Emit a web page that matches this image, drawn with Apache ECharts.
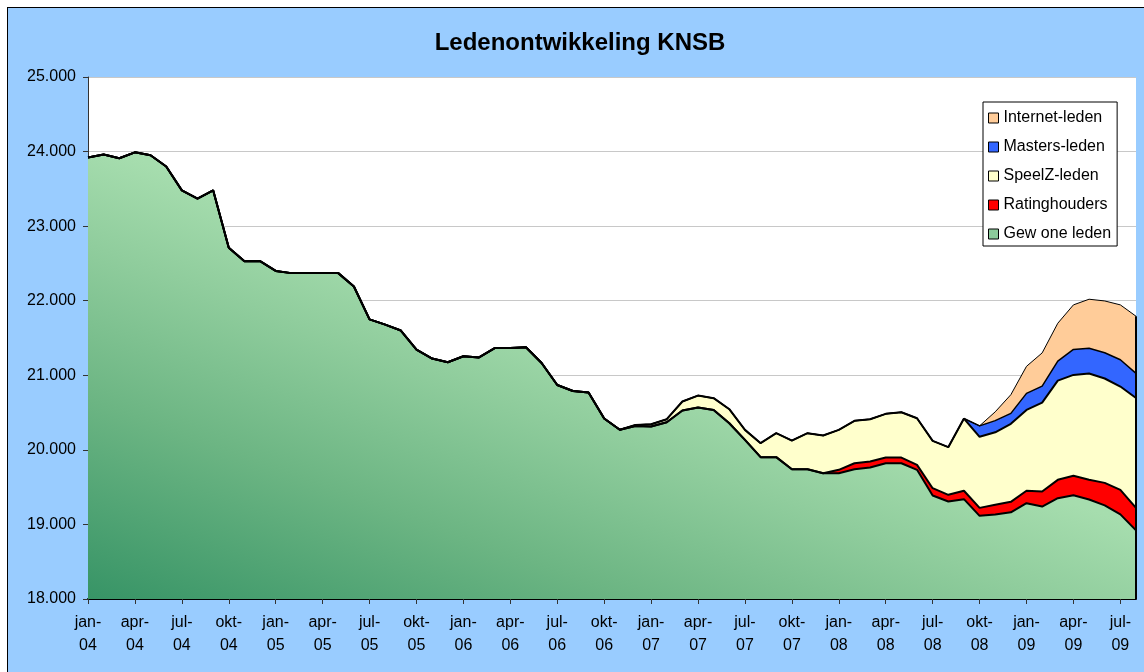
<!DOCTYPE html>
<html>
<head>
<meta charset="utf-8">
<script src="https://cdn.jsdelivr.net/npm/echarts@6/dist/echarts.min.js"></script>
<style>
  html, body { margin: 0; padding: 0; background: #ffffff; }
  #frame { position: absolute; left: 7px; top: 7px; width: 1160px; height: 690px; border: 1px solid #000; background: #99CCFF; }
  #chart { position: absolute; left: 0; top: 0; width: 1144px; height: 672px; }
</style>
</head>
<body>
<div id="frame"></div>
<div id="chart"></div>
<script>
const categories = [
  'jan-04','feb-04','mrt-04','apr-04','mei-04','jun-04','jul-04','aug-04','sep-04','okt-04','nov-04','dec-04',
  'jan-05','feb-05','mrt-05','apr-05','mei-05','jun-05','jul-05','aug-05','sep-05','okt-05','nov-05','dec-05',
  'jan-06','feb-06','mrt-06','apr-06','mei-06','jun-06','jul-06','aug-06','sep-06','okt-06','nov-06','dec-06',
  'jan-07','feb-07','mrt-07','apr-07','mei-07','jun-07','jul-07','aug-07','sep-07','okt-07','nov-07','dec-07',
  'jan-08','feb-08','mrt-08','apr-08','mei-08','jun-08','jul-08','aug-08','sep-08','okt-08','nov-08','dec-08',
  'jan-09','feb-09','mrt-09','apr-09','mei-09','jun-09','jul-09','aug-09'
];

const gewoneLeden = [
  23920,23960,23910,23990,23950,23800,23480,23370,23480,22710,22530,22530,
  22400,22370,22370,22370,22370,22190,21750,21680,21600,21345,21225,21175,
  21255,21240,21365,21365,21375,21165,20870,20790,20770,20420,20270,20320,
  20313,20371,20527,20567,20536,20357,20134,19902,19902,19741,19741,19687,
  19687,19741,19763,19821,19821,19732,19388,19308,19339,19115,19133,19162,
  19285,19240,19352,19392,19335,19256,19135,18920
];

const ratinghouders = [
  0,0,0,0,0,0,0,0,0,0,0,0,
  0,0,0,0,0,0,0,0,0,0,0,0,
  0,0,0,0,0,0,0,0,0,0,0,0,
  0,0,0,0,0,0,0,0,0,0,0,0,
  45,80,80,76,76,67,98,89,113,107,130,141,
  167,201,246,261,263,301,329,302
];

const speelZLeden = [
  0,0,0,0,0,0,0,0,0,0,0,0,
  0,0,0,0,0,0,0,0,0,0,0,0,
  0,0,0,0,0,0,0,0,0,0,0,15,
  31,40,121,161,157,188,134,188,322,384,483,506,
  536,568,568,586,608,625,635,639,968,953,972,1046,
  1084,1193,1331,1352,1426,1400,1385,1473
];

const mastersLeden = [
  0,0,0,0,0,0,0,0,0,0,0,0,
  0,0,0,0,0,0,0,0,0,0,0,0,
  0,0,0,0,0,0,0,0,0,0,0,0,
  0,0,0,0,0,0,0,0,0,0,0,0,
  0,0,0,0,0,0,0,0,0,147,157,140,
  221,221,261,342,338,345,359,330
];

const internetLeden = [
  0,0,0,0,0,0,0,0,0,0,0,0,
  0,0,0,0,0,0,0,0,0,0,0,0,
  0,0,0,0,0,0,0,0,0,0,0,0,
  0,0,0,0,0,0,0,0,0,0,0,0,
  0,0,0,0,0,0,0,0,0,0,118,251,
  363,445,508,597,658,695,736,767
];

const yTicks = { min: 18000, max: 25000, interval: 1000 };

const FONT = "'Liberation Sans', Arial, sans-serif";

function areaSeries(name, data, color, area, lw) {
  return {
    name: name,
    type: 'line',
    stack: 'total',
    data: data,
    symbol: 'none',
    showSymbol: false,
    lineStyle: { color: '#000', width: lw },
    itemStyle: { color: color, borderColor: '#000', borderWidth: 1 },
    areaStyle: { color: area, opacity: 1 },
    emphasis: { disabled: true }
  };
}

// diagonal fill of the base layer (style only)
const greenGradient = new echarts.graphic.LinearGradient(88, 599, 273, 95, [
  { offset: 0, color: '#379466' },
  { offset: 0.35, color: '#6cb583' },
  { offset: 0.62, color: '#90cd9d' },
  { offset: 0.8, color: '#a6ddae' },
  { offset: 1, color: '#a8dfb0' }
], true);

const lastIdx = categories.length - 1;
const lastTotal = gewoneLeden[lastIdx] + ratinghouders[lastIdx] + speelZLeden[lastIdx] +
                  mastersLeden[lastIdx] + internetLeden[lastIdx];

const series = [
  areaSeries('Gew one leden', gewoneLeden, '#8ccb9b', greenGradient, 2),
  areaSeries('Ratinghouders', ratinghouders, '#ff0000', '#ff0000', 2),
  areaSeries('SpeelZ-leden', speelZLeden, '#ffffcc', '#ffffcc', 2),
  areaSeries('Masters-leden', mastersLeden, '#3366ff', '#3366ff', 1.5),
  areaSeries('Internet-leden', internetLeden, '#ffcc99', '#ffcc99', 1)
];
series[4].markLine = {
  silent: true,
  symbol: 'none',
  label: { show: false },
  lineStyle: { color: '#000', width: 2, type: 'solid' },
  data: [[{ coord: [lastIdx, yTicks.min] }, { coord: [lastIdx, lastTotal] }]]
};

const chart = echarts.init(document.getElementById('chart'), null, { renderer: 'canvas' });
chart.setOption({
  animation: false,
  backgroundColor: 'transparent',
  title: {
    text: 'Ledenontwikkeling KNSB',
    left: 580,
    top: 31,
    textAlign: 'center',
    padding: 0,
    textStyle: { fontFamily: FONT, fontSize: 24, fontWeight: 'bold', color: '#000' }
  },
  legend: {
    orient: 'vertical',
    left: 983,
    top: 102,
    padding: [8, 6, 4, 5],
    itemGap: 13,
    itemWidth: 10,
    itemHeight: 10,
    icon: 'rect',
    backgroundColor: '#ffffff',
    borderColor: '#000',
    borderWidth: 1,
    itemStyle: { borderColor: '#000', borderWidth: 1 },
    textStyle: { fontFamily: FONT, fontSize: 16, color: '#000', lineHeight: 15 },
    data: ['Internet-leden', 'Masters-leden', 'SpeelZ-leden', 'Ratinghouders', 'Gew one leden']
  },
  grid: {
    left: 88, top: 77, width: 1048, height: 522,
    show: true, backgroundColor: '#ffffff', borderWidth: 0
  },
  xAxis: {
    type: 'category',
    data: categories,
    boundaryGap: false,
    axisLine: { lineStyle: { color: '#000', width: 2 } },
    axisTick: { interval: 2, length: 5, lineStyle: { color: '#333' } },
    axisLabel: {
      interval: 2,
      margin: 12,
      fontFamily: FONT,
      fontSize: 16,
      lineHeight: 23,
      color: '#000',
      formatter: function (v) { return v.replace('-', '-\n'); }
    },
    splitLine: { show: false }
  },
  yAxis: {
    type: 'value',
    min: yTicks.min,
    max: yTicks.max,
    interval: yTicks.interval,
    axisLine: { show: true, lineStyle: { color: '#333' } },
    axisTick: { show: true, length: 5, lineStyle: { color: '#333' } },
    axisLabel: {
      margin: 12,
      fontFamily: FONT,
      fontSize: 16,
      color: '#000',
      formatter: function (v) {
        return Math.floor(v / 1000) + '.' + String(v % 1000).padStart(3, '0');
      }
    },
    splitLine: { show: true, lineStyle: { color: '#c8c8c8', width: 1 } }
  },
  series: series
});
</script>
</body>
</html>
